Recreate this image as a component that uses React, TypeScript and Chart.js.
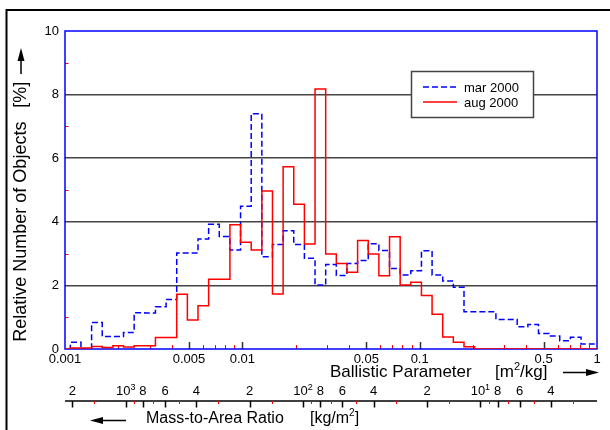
import React, { useEffect, useRef } from 'react';
import { Chart, registerables } from 'chart.js';

Chart.register(...registerables);

const FONT = '"Liberation Sans", Arial, Helvetica, sans-serif';

// Histogram bins: equal widths in log10 of the ballistic parameter [m^2/kg]
const binFirstEdgeLog = -3.03;
const binWidthLog = 0.06;

// Relative number of objects [%] per bin
const mar2000 = [
  0, 0.21, 0, 0.83, 0.39, 0.39, 0.52, 1.14, 1.13, 1.33,
  1.56, 3.02, 3.02, 3.46, 3.92, 3.54, 3.11, 4.49, 7.4, 2.9,
  3.29, 3.72, 3.29, 2.85, 2.01, 2.66, 2.31, 2.69, 2.78, 3.31,
  3.1, 2.53, 2.33, 2.46, 3.09, 2.33, 2.14, 1.94, 1.17, 1.17,
  1.17, 0.93, 0.93, 0.7, 0.77, 0.49, 0.41, 0.26, 0.37, 0.16,
  0.16,
];
const aug2000 = [
  0, 0.03, 0.03, 0.08, 0.05, 0.1, 0.06, 0.1, 0.1, 0.36,
  0.36, 1.72, 0.91, 1.36, 2.19, 2.19, 3.91, 3.36, 3.11, 4.97,
  1.73, 5.73, 4.55, 3.3, 8.18, 2.99, 2.69, 2.41, 3.41, 2.99,
  2.3, 3.53, 2.01, 2.1, 1.68, 1.09, 0.38, 0.21, 0.07, 0,
  0, 0, 0, 0, 0, 0, 0, 0, 0, 0,
  0,
];

const seriesLabels = ['mar 2000', 'aug 2000'];

const xTickValues = [0.001, 0.005, 0.01, 0.05, 0.1, 0.5, 1];
const xTickLabels = ['0.001', '0.005', '0.01', '0.05', '0.1', '0.5', '1'];
const xMajorMarks = [0.005, 0.01, 0.05, 0.1, 0.5];
const xMinorMarks = [
  0.002, 0.003, 0.004, 0.006, 0.007, 0.008, 0.009,
  0.02, 0.03, 0.04, 0.06, 0.07, 0.08, 0.09,
  0.2, 0.3, 0.4, 0.6, 0.7, 0.8, 0.9,
];
const yMinorMarks = [1, 3, 5, 7, 9];

// Secondary axis: mass-to-area ratio = Cd / ballistic parameter
const dragCoefficient = 2.2;
const massMajor = [2000, 1000, 800, 600, 400, 200, 100, 80, 60, 40, 20, 10, 8, 6, 4];
const massMajorLabels = ['2', '10^3', '8', '6', '4', '2', '10^2', '8', '6', '4', '2', '10^1', '8', '6', '4'];
const massMinor = [1500, 900, 700, 500, 300, 150, 90, 70, 50, 30, 15, 9, 7, 5, 3];

function toSteps(values: number[]) {
  const pts = values.map((v, i) => ({ x: Math.pow(10, binFirstEdgeLog + binWidthLog * i), y: v }));
  pts.push({ x: Math.pow(10, binFirstEdgeLog + binWidthLog * values.length), y: values[values.length - 1] });
  return pts;
}

function arrowHead(ctx: CanvasRenderingContext2D, tx: number, ty: number, dir: 'left' | 'right' | 'up') {
  ctx.beginPath();
  if (dir === 'right') {
    ctx.moveTo(tx, ty); ctx.lineTo(tx - 13, ty - 3.5); ctx.lineTo(tx - 13, ty + 3.5);
  } else if (dir === 'left') {
    ctx.moveTo(tx, ty); ctx.lineTo(tx + 13, ty - 3.5); ctx.lineTo(tx + 13, ty + 3.5);
  } else {
    ctx.moveTo(tx, ty); ctx.lineTo(tx - 3.5, ty + 13); ctx.lineTo(tx + 3.5, ty + 13);
  }
  ctx.closePath();
  ctx.fill();
}

const extras = {
  id: 'extras',
  beforeDatasetsDraw(chart: any) {
    const { ctx, chartArea: a, scales } = chart;
    const x = scales.x;
    const y = scales.y;
    ctx.save();
    ctx.lineWidth = 1;
    ctx.strokeStyle = '#ff0000';
    ctx.beginPath();
    for (const v of xMinorMarks) {
      const px = Math.round(x.getPixelForValue(v)) + 0.5;
      ctx.moveTo(px, a.bottom);
      ctx.lineTo(px, a.bottom - 4);
    }
    for (const v of yMinorMarks) {
      const py = Math.round(y.getPixelForValue(v)) + 0.5;
      ctx.moveTo(a.left, py);
      ctx.lineTo(a.left + 3.5, py);
    }
    ctx.stroke();
    ctx.strokeStyle = '#333';
    ctx.lineWidth = 1.5;
    ctx.beginPath();
    for (const v of xMajorMarks) {
      const px = Math.round(x.getPixelForValue(v)) + 0.5;
      ctx.moveTo(px, a.bottom);
      ctx.lineTo(px, a.bottom - 7);
    }
    ctx.stroke();
    ctx.strokeStyle = '#0000ff';
    ctx.lineWidth = 1.5;
    ctx.strokeRect(a.left, a.top, a.right - a.left, a.bottom - a.top);
    ctx.restore();
  },
  afterDraw(chart: any) {
    const { ctx, chartArea: a, scales } = chart;
    const x = scales.x;
    ctx.save();

    // x tick labels
    ctx.fillStyle = '#000';
    ctx.font = `13px ${FONT}`;
    ctx.textAlign = 'center';
    ctx.textBaseline = 'alphabetic';
    xTickValues.forEach((v, i) => {
      ctx.fillText(xTickLabels[i], x.getPixelForValue(v), 363);
    });

    // legend
    ctx.fillStyle = '#fff';
    ctx.fillRect(411.5, 71.5, 122, 46);
    ctx.strokeStyle = '#444';
    ctx.lineWidth = 1.5;
    ctx.strokeRect(411.5, 71.5, 122, 46);
    ctx.lineWidth = 1.5;
    ctx.strokeStyle = '#0000ff';
    ctx.setLineDash([6, 3]);
    ctx.beginPath(); ctx.moveTo(423, 87); ctx.lineTo(457, 87); ctx.stroke();
    ctx.setLineDash([]);
    ctx.strokeStyle = '#ff0000';
    ctx.beginPath(); ctx.moveTo(423, 102); ctx.lineTo(457, 102); ctx.stroke();
    ctx.fillStyle = '#000';
    ctx.font = `13px ${FONT}`;
    ctx.textAlign = 'left';
    ctx.fillText(seriesLabels[0], 464, 91.7);
    ctx.fillText(seriesLabels[1], 464, 106.7);

    // secondary axis
    const axY = 401;
    ctx.strokeStyle = '#000';
    ctx.lineWidth = 1.5;
    ctx.beginPath(); ctx.moveTo(a.left, axY); ctx.lineTo(a.right, axY); ctx.stroke();
    ctx.beginPath();
    for (const m of massMajor) {
      const px = Math.round(x.getPixelForValue(dragCoefficient / m)) + 0.5;
      ctx.moveTo(px, axY); ctx.lineTo(px, axY + 6.5);
    }
    ctx.stroke();
    ctx.strokeStyle = '#ff0000';
    ctx.lineWidth = 1;
    ctx.beginPath();
    for (const m of massMinor) {
      const px = Math.round(x.getPixelForValue(dragCoefficient / m)) + 0.5;
      ctx.moveTo(px, axY); ctx.lineTo(px, axY + 3);
    }
    ctx.stroke();
    ctx.fillStyle = '#000';
    massMajor.forEach((m, i) => {
      const px = x.getPixelForValue(dragCoefficient / m);
      const lab = massMajorLabels[i];
      const base = 395;
      if (lab.includes('^')) {
        const [b, s] = lab.split('^');
        ctx.font = `13px ${FONT}`;
        const wb = ctx.measureText(b).width;
        ctx.font = `9px ${FONT}`;
        const ws = ctx.measureText(s).width;
        const start = px - (wb + ws) / 2;
        ctx.textAlign = 'left';
        ctx.font = `13px ${FONT}`;
        ctx.fillText(b, start, base);
        ctx.font = `9px ${FONT}`;
        ctx.fillText(s, start + wb, base - 5);
      } else {
        ctx.font = `13px ${FONT}`;
        ctx.textAlign = 'center';
        ctx.fillText(lab, px, base);
      }
    });

    // x title
    ctx.textAlign = 'left';
    ctx.font = `17px ${FONT}`;
    ctx.fillText('Ballistic Parameter', 330, 377);
    let cx = 495;
    ctx.fillText('[m', cx, 377);
    cx += ctx.measureText('[m').width;
    ctx.font = `11px ${FONT}`;
    ctx.fillText('2', cx, 370);
    cx += ctx.measureText('2').width;
    ctx.font = `17px ${FONT}`;
    ctx.fillText('/kg]', cx, 377);
    ctx.strokeStyle = '#000';
    ctx.lineWidth = 1.5;
    ctx.beginPath(); ctx.moveTo(563, 372.5); ctx.lineTo(588, 372.5); ctx.stroke();
    arrowHead(ctx, 599, 372.5, 'right');

    // mass title
    ctx.font = `16px ${FONT}`;
    ctx.fillText('Mass-to-Area Ratio', 146, 423);
    cx = 310;
    ctx.fillText('[kg/m', cx, 423);
    cx += ctx.measureText('[kg/m').width;
    ctx.font = `10px ${FONT}`;
    ctx.fillText('2', cx, 416);
    cx += ctx.measureText('2').width;
    ctx.font = `16px ${FONT}`;
    ctx.fillText(']', cx, 423);
    ctx.beginPath(); ctx.moveTo(126, 420.5); ctx.lineTo(100, 420.5); ctx.stroke();
    arrowHead(ctx, 90, 420.5, 'left');

    // y title
    ctx.save();
    ctx.translate(26, 341.7);
    ctx.rotate(-Math.PI / 2);
    ctx.font = `18px ${FONT}`;
    ctx.textAlign = 'left';
    ctx.fillText('Relative Number of Objects', 0, 0);
    ctx.fillText('[%]', 234, 0);
    ctx.restore();
    ctx.beginPath(); ctx.moveTo(21, 74); ctx.lineTo(21, 58); ctx.stroke();
    arrowHead(ctx, 21, 48, 'up');

    // outer frame (left and top edges)
    ctx.strokeStyle = '#000';
    ctx.lineWidth = 2;
    ctx.beginPath();
    ctx.moveTo(6.5, 440); ctx.lineTo(6.5, 10); ctx.lineTo(620, 10);
    ctx.stroke();

    ctx.restore();
  },
};

export default function App() {
  const ref = useRef<HTMLCanvasElement | null>(null);
  useEffect(() => {
    if (!ref.current) return;
    const chart = new Chart(ref.current, {
      type: 'line',
      data: {
        datasets: [
          {
            label: seriesLabels[1],
            data: toSteps(aug2000),
            borderColor: '#ff0000',
            borderWidth: 1.5,
            stepped: true,
            pointRadius: 0,
            fill: false,
          },
          {
            label: seriesLabels[0],
            data: toSteps(mar2000),
            borderColor: '#0000ff',
            borderWidth: 1.5,
            borderDash: [6, 3],
            stepped: true,
            pointRadius: 0,
            fill: false,
          },
        ],
      },
      options: {
        animation: false,
        responsive: false,
        maintainAspectRatio: false,
        layout: { padding: { left: 0, top: 31, right: 13, bottom: 0 }, autoPadding: false } as any,
        plugins: { legend: { display: false }, tooltip: { enabled: false } },
        scales: {
          x: {
            type: 'logarithmic',
            min: 0.001,
            max: 1,
            afterFit: (s: any) => { s.height = 81; },
            ticks: { display: false },
            grid: { display: false },
            border: { display: false },
          },
          y: {
            type: 'linear',
            min: 0,
            max: 10,
            afterFit: (s: any) => { s.width = 65; },
            ticks: {
              stepSize: 2,
              padding: 6,
              color: '#000',
              font: { family: FONT, size: 13 },
            },
            grid: {
              drawTicks: false,
              lineWidth: 1.5,
              color: (c: any) => (c.tick && (c.tick.value === 0 || c.tick.value === 10) ? 'rgba(0,0,0,0)' : '#444'),
            },
            border: { display: false },
          },
        },
      },
      plugins: [extras],
    } as any);
    return () => chart.destroy();
  }, []);
  return (
    <div style={{ position: 'fixed', left: 0, top: 0, width: 610, height: 430, background: '#fff' }}>
      <canvas ref={ref} width={610} height={430} style={{ width: 610, height: 430, display: 'block' }} />
    </div>
  );
}
